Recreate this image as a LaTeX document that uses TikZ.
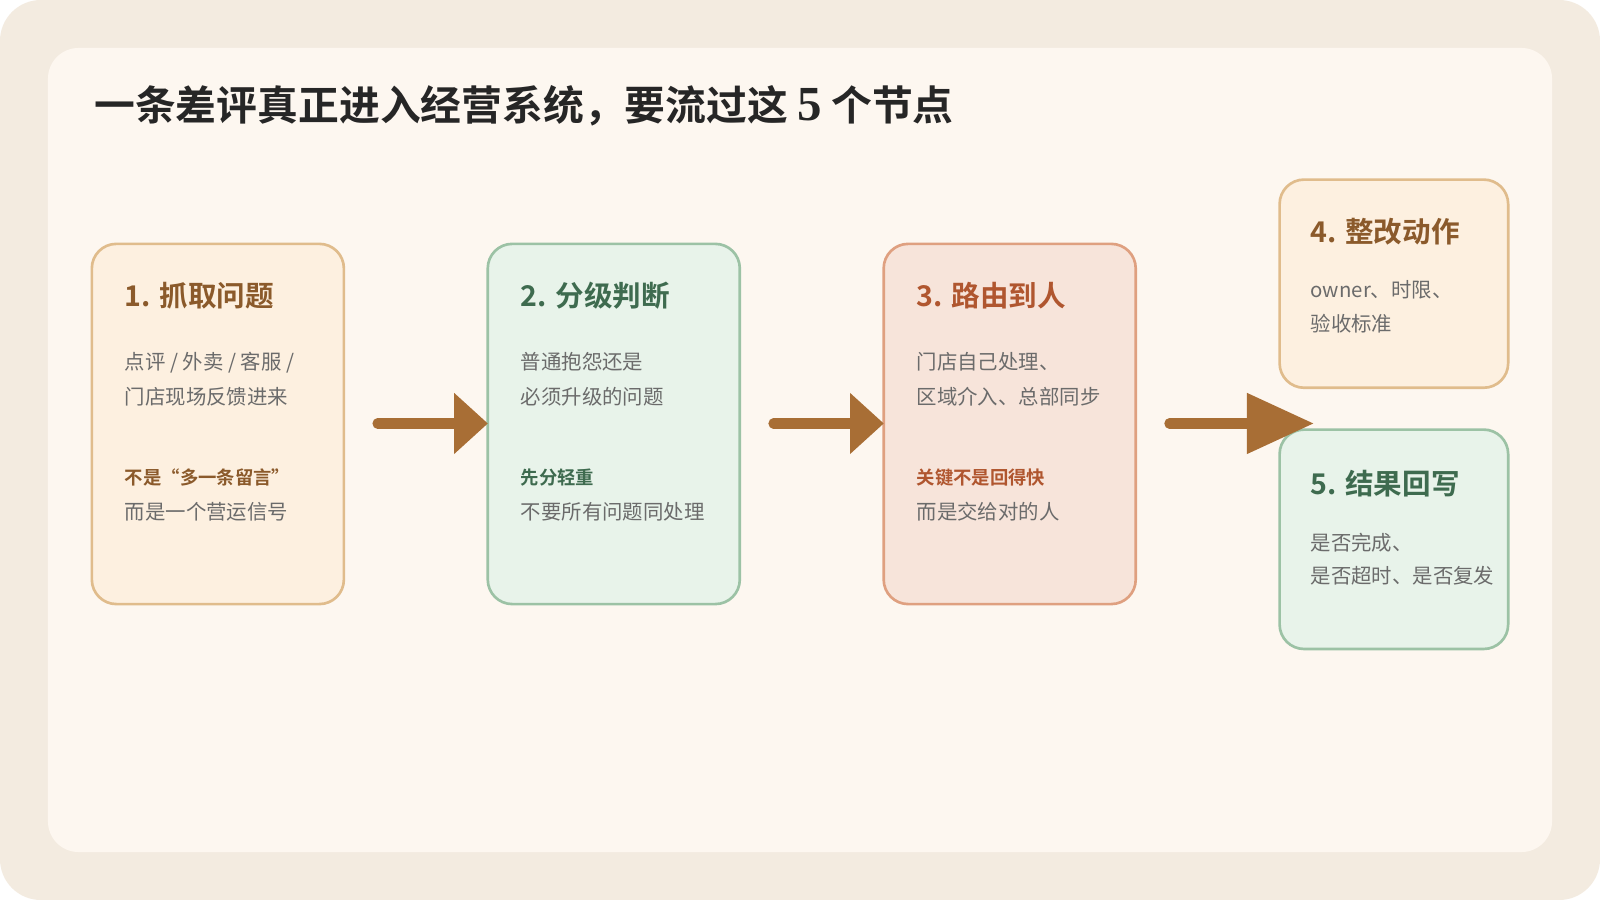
\documentclass[tikz,border=0pt]{standalone}
\usepackage{fontspec}
\setmainfont{Noto Sans CJK SC}
\newfontfamily\cjkb{Noto Sans CJK SC Bold}
\newfontfamily\serifnum{Liberation Serif}
\definecolor{outerbg}{HTML}{F3EBE0}
\definecolor{innerbg}{HTML}{FDF7F0}
\definecolor{fillA}{HTML}{FDF0E0}\definecolor{lineA}{HTML}{E0BC8C}\definecolor{textA}{HTML}{8B5A2B}
\definecolor{fillB}{HTML}{E8F3EA}\definecolor{lineB}{HTML}{9CC2A5}\definecolor{textB}{HTML}{3E6B4F}
\definecolor{fillC}{HTML}{F7E4DA}\definecolor{lineC}{HTML}{DFA080}\definecolor{textC}{HTML}{B0562F}
\definecolor{bodyc}{HTML}{6B6B6B}
\definecolor{arrc}{HTML}{A86E35}
\begin{document}
\begin{tikzpicture}[x=0.5pt,y=-0.5pt,
  card/.style={rounded corners=12pt,line width=1.3pt},
  ttl/.style={anchor=base west,inner sep=0pt,font=\cjkb\fontsize{14}{16}\selectfont},
  body/.style={anchor=base west,inner sep=0pt,align=left,text=bodyc,font=\fontsize{10}{17}\selectfont},
  key/.style={anchor=base west,inner sep=0pt,font=\cjkb\fontsize{9}{11}\selectfont}]
\fill[outerbg,rounded corners=20pt] (0,0) rectangle (1568,882);
\fill[innerbg,rounded corners=15pt] (47,47) rectangle (1521,835);
\useasboundingbox (0,0) rectangle (1568,882);
\node[anchor=base west,inner sep=0pt,font=\cjkb\fontsize{20}{24}\selectfont,text=black!85] (title) at (92,118) {一条差评真正进入经营系统，要流过这 {\serifnum\bfseries\fontsize{24}{24}\selectfont 5} 个节点};
% box 1
\draw[card,fill=fillA,draw=lineA] (90,239) rectangle (337,592);
\node[ttl,text=textA] (t1) at (122,300) {1. 抓取问题};
\node[body] (b1) at (122,362) {点评 / 外卖 / 客服 /};
\node[body] (b1b) at (122,396) {门店现场反馈进来};
\node[key,text=textA] (k1) at (122,475) {不是“多一条留言”};
\node[body] (c1) at (122,509) {而是一个营运信号};
% box 2
\draw[card,fill=fillB,draw=lineB] (478,239) rectangle (725,592);
\node[ttl,text=textB] (t2) at (510,300) {2. 分级判断};
\node[body] (b2) at (510,362) {普通抱怨还是};
\node[body] (b2b) at (510,396) {必须升级的问题};
\node[key,text=textB] (k2) at (510,475) {先分轻重};
\node[body] (c2) at (510,509) {不要所有问题同处理};
% box 3
\draw[card,fill=fillC,draw=lineC] (866,239) rectangle (1113,592);
\node[ttl,text=textC] (t3) at (898,300) {3. 路由到人};
\node[body] (b3) at (898,362) {门店自己处理、};
\node[body] (b3b) at (898,396) {区域介入、总部同步};
\node[key,text=textC] (k3) at (898,475) {关键不是回得快};
\node[body] (c3) at (898,509) {而是交给对的人};
% box 4
\draw[card,fill=fillA,draw=lineA] (1254,176) rectangle (1478,380);
\node[ttl,text=textA] (t4) at (1284,238) {4. 整改动作};
\node[body] (b4) at (1284,292) {owner、时限、};
\node[body] (b4b) at (1284,325) {验收标准};
% box 5
\draw[card,fill=fillB,draw=lineB] (1254,421) rectangle (1478,636);
\node[ttl,text=textB] (t5) at (1284,485) {5. 结果回写};
\node[body] (b5) at (1284,539) {是否完成、};
\node[body] (b5b) at (1284,572) {是否超时、是否复发};
% arrows
\foreach \a/\b/\c in {370/445/478, 758/833/866, 1146/1222/1287}{
  \draw[arrc,line width=5pt,line cap=round] (\a,415) -- (\b+2,415);
  \fill[arrc] (\b,385) -- (\c,415) -- (\b,445) -- cycle;
}
\end{tikzpicture}
\end{document}
